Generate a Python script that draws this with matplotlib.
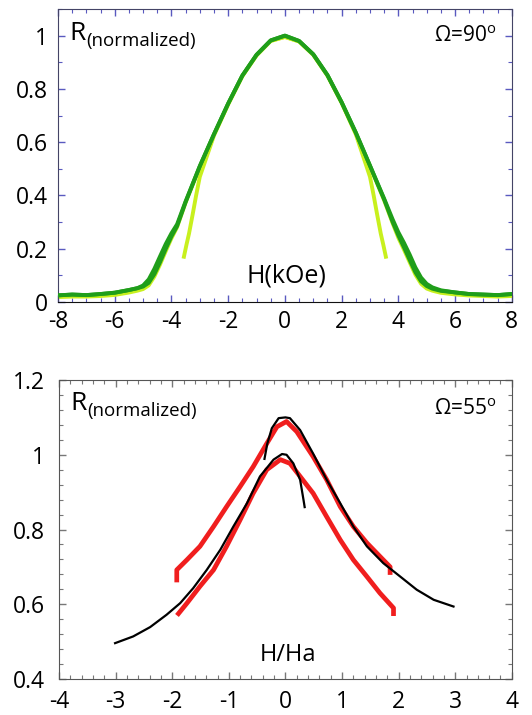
import matplotlib
matplotlib.use('Agg')
import matplotlib.pyplot as plt
from matplotlib.ticker import MultipleLocator

plt.rcParams['font.family'] = ['Open Sans', 'DejaVu Sans']
plt.rcParams['axes.unicode_minus'] = False

# --- top panel (Omega = 90 deg), field in kOe ---
h_top = [-8, -7.5, -7, -6.5, -6, -5.5, -5.2, -5.0, -4.8, -4.6, -4.4, -4.2, -4.0,
         -3.8, -3.5, -3.0, -2.5, -2.0, -1.5, -1.0, -0.5, 0, 0.5, 1.0, 1.5, 2.0,
         2.5, 3.0, 3.5, 3.8, 4.0, 4.2, 4.4, 4.6, 4.8, 5.0, 5.2, 5.5, 6.0, 6.5,
         7.0, 7.5, 8]
r_sweep_up = [0.025, 0.028, 0.026, 0.030, 0.035, 0.045, 0.052, 0.058, 0.072, 0.105,
              0.150, 0.200, 0.246, 0.285, 0.375, 0.510, 0.630, 0.745, 0.850, 0.928,
              0.982, 1.0, 0.980, 0.930, 0.852, 0.750, 0.636, 0.512, 0.385, 0.300,
              0.250, 0.205, 0.158, 0.112, 0.078, 0.060, 0.050, 0.042, 0.036, 0.030,
              0.028, 0.026, 0.030]
r_sweep_down = [0.025, 0.028, 0.026, 0.030, 0.035, 0.045, 0.052, 0.062, 0.085, 0.125,
                0.172, 0.218, 0.258, 0.292, 0.378, 0.510, 0.630, 0.745, 0.850, 0.928,
                0.982, 1.0, 0.980, 0.930, 0.852, 0.750, 0.636, 0.512, 0.388, 0.310,
                0.262, 0.222, 0.178, 0.130, 0.092, 0.068, 0.055, 0.044, 0.036, 0.030,
                0.028, 0.026, 0.030]
r_light = [0.018, 0.020, 0.020, 0.022, 0.026, 0.035, 0.042, 0.048, 0.062, 0.095,
           0.140, 0.190, 0.238, 0.280, 0.372, 0.505, 0.628, 0.742, 0.848, 0.925,
           0.980, 0.995, 0.978, 0.928, 0.850, 0.748, 0.632, 0.508, 0.380, 0.294,
           0.240, 0.195, 0.148, 0.102, 0.068, 0.050, 0.042, 0.034, 0.028, 0.024,
           0.022, 0.020, 0.022]
h_fit = [-3.56, -3.47, -3.38, -3.25, -3.13, -3.0, -2.5, -2.0, -1.5, -1.0, -0.5, 0,
         0.5, 1.0, 1.5, 2.0, 2.5, 3.0, 3.13, 3.25, 3.38, 3.47, 3.56]
r_fit = [0.17, 0.215, 0.257, 0.33, 0.40, 0.47, 0.625, 0.742, 0.848, 0.926, 0.980, 0.995,
         0.978, 0.928, 0.850, 0.748, 0.630, 0.47, 0.40, 0.33, 0.257, 0.215, 0.17]

# --- bottom panel (Omega = 55 deg), H/Ha ---
h_red_a = [-1.92, -1.92, -1.74, -1.51, -1.27, -1.04, -0.80, -0.57, -0.33, -0.15, 0.02,
           0.20, 0.49, 0.73, 0.97, 1.20, 1.44, 1.67, 1.85, 1.85]
r_red_a = [0.665, 0.692, 0.719, 0.755, 0.808, 0.861, 0.915, 0.968, 1.030, 1.075, 1.089,
           1.062, 0.995, 0.933, 0.861, 0.808, 0.764, 0.728, 0.700, 0.685]
h_red_b = [-1.89, -1.74, -1.51, -1.27, -1.04, -0.80, -0.57, -0.33, -0.09, 0.08, 0.26,
           0.49, 0.73, 0.97, 1.20, 1.44, 1.67, 1.91, 1.91]
r_red_b = [0.575, 0.603, 0.648, 0.692, 0.755, 0.826, 0.897, 0.960, 0.987, 0.977, 0.942,
           0.897, 0.834, 0.772, 0.719, 0.674, 0.630, 0.590, 0.575]
h_blk_up = [-0.37, -0.32, -0.24, -0.12, 0, 0.08, 0.26, 0.49, 0.73, 0.97, 1.20, 1.44,
            1.73, 2.03, 2.32, 2.62, 2.97]
r_blk_up = [0.989, 1.03, 1.071, 1.098, 1.10, 1.098, 1.066, 1.003, 0.933, 0.870, 0.808,
            0.755, 0.710, 0.674, 0.639, 0.612, 0.594]
h_blk_lo = [-3.01, -2.69, -2.39, -2.10, -1.86, -1.63, -1.39, -1.15, -0.92, -0.68, -0.45,
            -0.21, -0.06, 0.02, 0.14, 0.26, 0.32, 0.34]
r_blk_lo = [0.496, 0.514, 0.539, 0.572, 0.603, 0.643, 0.692, 0.746, 0.808, 0.870, 0.942,
            0.987, 1.002, 1.0, 0.977, 0.933, 0.879, 0.860]

fig = plt.figure(figsize=(5.32, 7.15), dpi=100)

# top panel
ax1 = fig.add_axes([0.109, 0.5776, 0.853, 0.4098])
ax1.plot(h_top, r_light, color='#c8f01e', lw=2.6, zorder=2)
ax1.plot(h_fit, r_fit, color='#c8f01e', lw=2.8, zorder=2)
ax1.plot(h_top, r_sweep_up, color='#1f9e1a', lw=2.8, zorder=3)
ax1.plot(h_top, r_sweep_down, color='#1f9e1a', lw=2.8, zorder=3)
ax1.set_xlim(-8, 8)
ax1.set_ylim(0, 1.1)
ax1.xaxis.set_major_locator(MultipleLocator(2))
ax1.xaxis.set_minor_locator(MultipleLocator(0.5))
ax1.yaxis.set_minor_locator(MultipleLocator(0.1))
ax1.set_yticks([0, 0.2, 0.4, 0.6, 0.8, 1.0])
ax1.set_yticklabels(['0', '0.2', '0.4', '0.6', '0.8', '1'])
ax1.tick_params(which='both', direction='in', top=True, right=True, color='#5a5ac0',
                labelsize=16.5)
ax1.tick_params(which='major', length=5, width=1)
ax1.tick_params(which='minor', length=3, width=0.8)
ax1.tick_params(axis='x', pad=6)
ax1.tick_params(axis='y', pad=7)
for side in ['left', 'right', 'top']:
    ax1.spines[side].set_color('#444466')
ax1.spines['bottom'].set_color('#111111')

t1 = ax1.text(0.026, 0.918, 'R', transform=ax1.transAxes, fontsize=19,
              ha='left', va='center')
ax1.annotate('(normalized)', xy=(1.0, 0.0), xycoords=t1, fontsize=13.5,
             xytext=(0, -3), textcoords='offset points', ha='left', va='bottom')
ax1.text(0.967, 0.905, r'Ω=90$^{\mathregular{o}}$', transform=ax1.transAxes,
         fontsize=15, ha='right', va='center')
ax1.text(0.504, 0.089, 'H(kOe)', transform=ax1.transAxes, fontsize=18,
         ha='center', va='center')

# bottom panel
ax2 = fig.add_axes([0.111, 0.0503, 0.851, 0.4182])
ax2.plot(h_red_a, r_red_a, color='#f01e1e', lw=3.4, zorder=2)
ax2.plot(h_red_b, r_red_b, color='#f01e1e', lw=3.4, zorder=2)
ax2.plot(h_blk_up, r_blk_up, color='black', lw=1.6, zorder=3)
ax2.plot(h_blk_lo, r_blk_lo, color='black', lw=1.6, zorder=3)
ax2.set_xlim(-4, 4)
ax2.set_ylim(0.4, 1.2)
ax2.xaxis.set_major_locator(MultipleLocator(1))
ax2.xaxis.set_minor_locator(MultipleLocator(0.2))
ax2.set_yticks([0.4, 0.6, 0.8, 1.0, 1.2])
ax2.set_yticklabels(['0.4', '0.6', '0.8', '1', '1.2'])
ax2.yaxis.set_minor_locator(MultipleLocator(0.04))
ax2.tick_params(which='both', direction='in', top=True, right=True, color='#777777',
                labelsize=16.5)
ax2.tick_params(which='major', length=5, width=1)
ax2.tick_params(which='minor', length=3, width=0.8)
ax2.tick_params(axis='x', pad=8)
ax2.tick_params(axis='y', pad=10)
for side in ['left', 'right', 'top', 'bottom']:
    ax2.spines[side].set_color('#555555')

t2 = ax2.text(0.026, 0.922, 'R', transform=ax2.transAxes, fontsize=19,
              ha='left', va='center')
ax2.annotate('(normalized)', xy=(1.0, 0.0), xycoords=t2, fontsize=13.5,
             xytext=(0, -3), textcoords='offset points', ha='left', va='bottom')
ax2.text(0.967, 0.90, r'Ω=55$^{\mathregular{o}}$', transform=ax2.transAxes,
         fontsize=15, ha='right', va='center')
ax2.text(0.505, 0.08, 'H/Ha', transform=ax2.transAxes, fontsize=17,
         ha='center', va='center')

fig.savefig('out.png', dpi=100)
